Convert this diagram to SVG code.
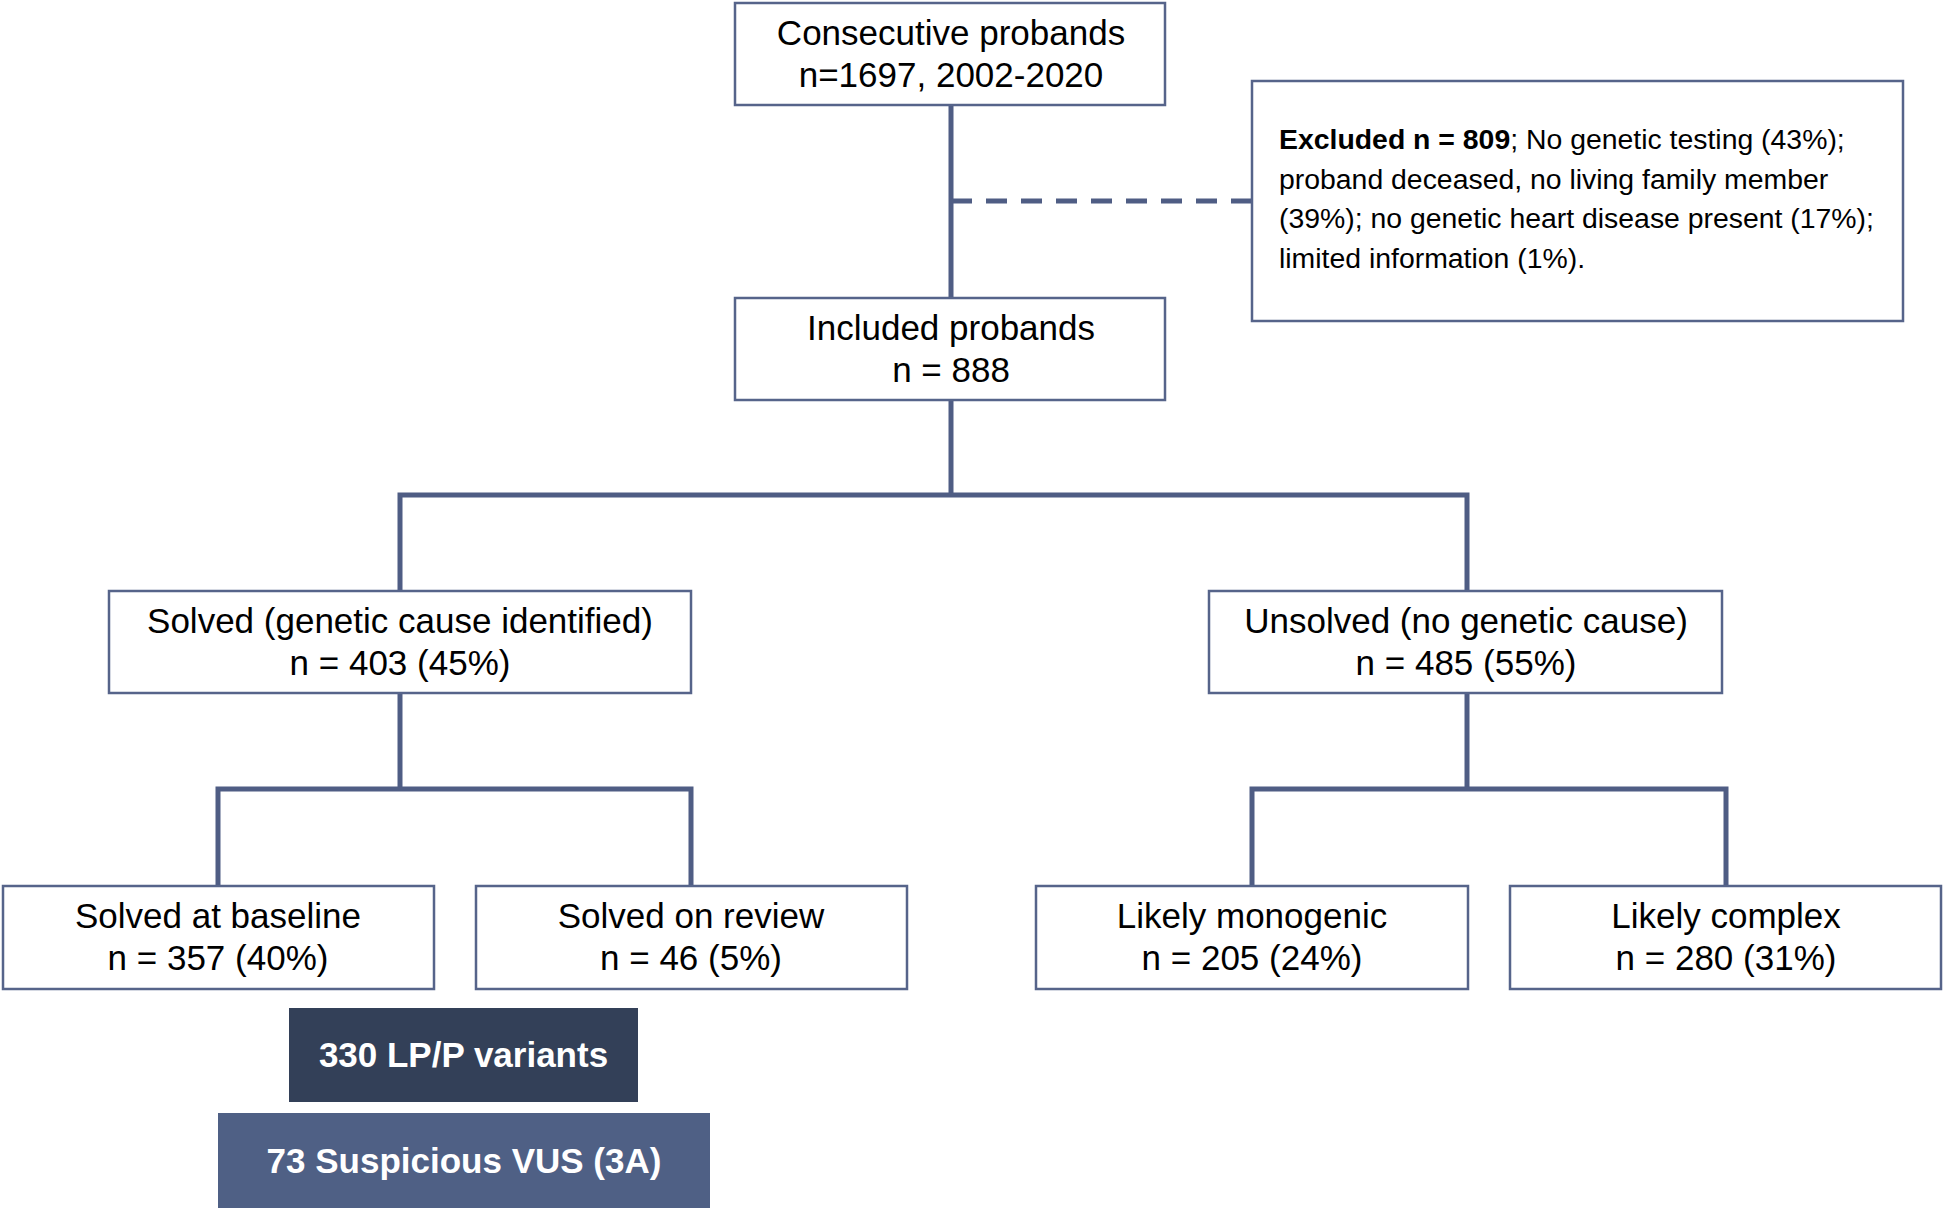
<svg xmlns="http://www.w3.org/2000/svg" width="1944" height="1211" viewBox="0 0 1944 1211">
<style>
.box{fill:#ffffff;stroke:#56648a;stroke-width:2.5}
.t{font-family:"Liberation Sans",Arial,sans-serif;font-size:35px;fill:#000;text-anchor:middle}
.ex{font-family:"Liberation Sans",Arial,sans-serif;font-size:28.4px;fill:#000}
.w{font-family:"Liberation Sans",Arial,sans-serif;font-size:35px;font-weight:bold;fill:#fff;text-anchor:middle}
.ln{fill:none;stroke:#4f5d84;stroke-width:5}
</style>
<rect width="1944" height="1211" fill="#fff"/>
<g id="connectors">
<path class="ln" d="M951 104V298"/>
<path class="ln" d="M951 201H1252" stroke-dasharray="21 14"/>
<path class="ln" d="M951 400V495"/>
<path class="ln" d="M400 591V495H1467V591"/>
<path class="ln" d="M400 693V789"/>
<path class="ln" d="M218 886V789H691V886"/>
<path class="ln" d="M1467 693V789"/>
<path class="ln" d="M1252 886V789H1726V886"/>
</g>
<g id="consecutive">
<rect class="box" x="735" y="3" width="430" height="102"/>
<text class="t" x="951" y="45">Consecutive probands</text>
<text class="t" x="951" y="87">n=1697, 2002-2020</text>
</g>
<g id="excluded">
<rect class="box" x="1252" y="81" width="651" height="240"/>
<text class="ex" x="1279" y="149"><tspan font-weight="bold">Excluded n = 809</tspan>; No genetic testing (43%);</text>
<text class="ex" x="1279" y="188.5">proband deceased, no living family member</text>
<text class="ex" x="1279" y="228">(39%); no genetic heart disease present (17%);</text>
<text class="ex" x="1279" y="267.5">limited information (1%).</text>
</g>
<g id="included">
<rect class="box" x="735" y="298" width="430" height="102"/>
<text class="t" x="951" y="340">Included probands</text>
<text class="t" x="951" y="382">n = 888</text>
</g>
<g id="solved">
<rect class="box" x="109" y="591" width="582" height="102"/>
<text class="t" x="400" y="633">Solved (genetic cause identified)</text>
<text class="t" x="400" y="675">n = 403 (45%)</text>
</g>
<g id="unsolved">
<rect class="box" x="1209" y="591" width="513" height="102"/>
<text class="t" x="1466" y="633">Unsolved (no genetic cause)</text>
<text class="t" x="1466" y="675">n = 485 (55%)</text>
</g>
<g id="baseline">
<rect class="box" x="3" y="886" width="431" height="103"/>
<text class="t" x="218" y="928">Solved at baseline</text>
<text class="t" x="218" y="970">n = 357 (40%)</text>
</g>
<g id="review">
<rect class="box" x="476" y="886" width="431" height="103"/>
<text class="t" x="691" y="928">Solved on review</text>
<text class="t" x="691" y="970">n = 46 (5%)</text>
</g>
<g id="monogenic">
<rect class="box" x="1036" y="886" width="432" height="103"/>
<text class="t" x="1252" y="928">Likely monogenic</text>
<text class="t" x="1252" y="970">n = 205 (24%)</text>
</g>
<g id="complex">
<rect class="box" x="1510" y="886" width="431" height="103"/>
<text class="t" x="1726" y="928">Likely complex</text>
<text class="t" x="1726" y="970">n = 280 (31%)</text>
</g>
<g id="lpp">
<rect x="289" y="1008" width="349" height="94" fill="#334058"/>
<text class="w" x="463.5" y="1067">330 LP/P variants</text>
</g>
<g id="vus">
<rect x="218" y="1113" width="492" height="95" fill="#4f6085"/>
<text class="w" x="464" y="1173">73 Suspicious VUS (3A)</text>
</g>
</svg>
